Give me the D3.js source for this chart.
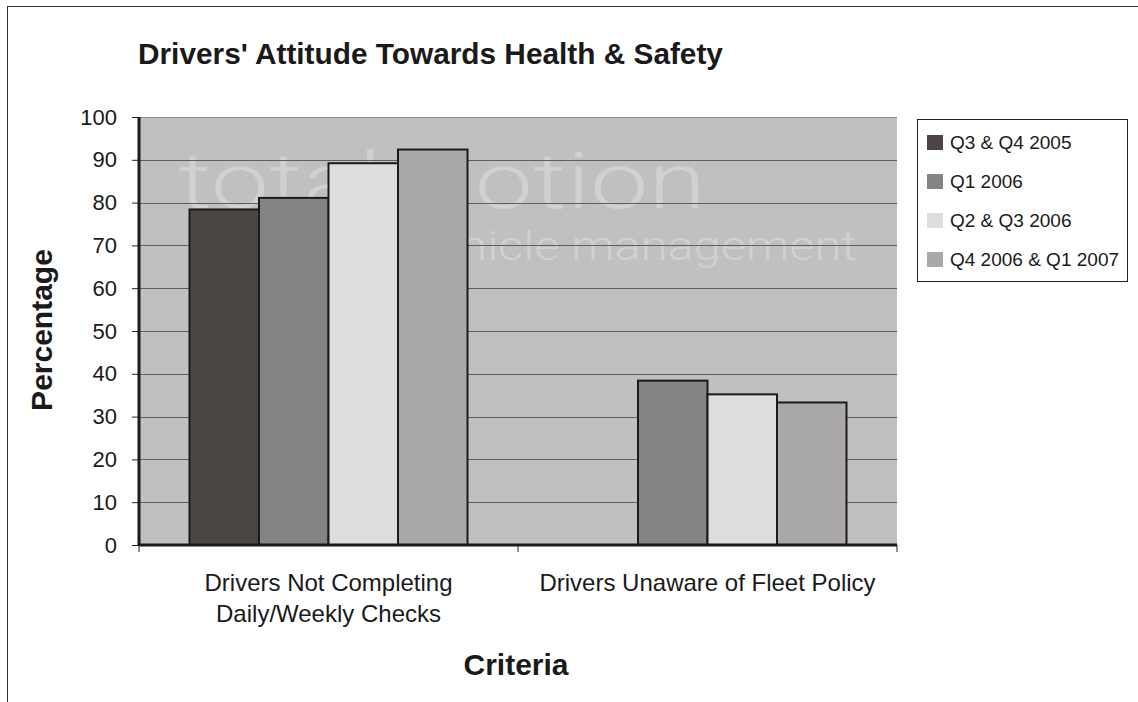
<!DOCTYPE html>
<meta charset="utf-8">
<style>
body { margin: 0; background: #fff; }
svg * { font-family: 'Liberation Sans', Arial, sans-serif; }
.grid line { stroke: #5f5f5f; stroke-width: 1px; }
.bar { stroke: #1e1a19; stroke-width: 2px; }
.tick-label { font-size: 22px; fill: #1a1a1a; }
.cat-label { font-size: 24px; fill: #1a1a1a; }
svg .watermark { font-family: 'Roboto', 'Lato', sans-serif; font-weight: 300; fill: #d1d1d1; }
</style>
<svg width="1138" height="702" id="svg"></svg>
<script src="https://cdn.jsdelivr.net/npm/d3@7"></script>
<script>

const categories = ['Drivers Not Completing|Daily/Weekly Checks', 'Drivers Unaware of Fleet Policy'];
const seriesNames = ['Q3 & Q4 2005', 'Q1 2006', 'Q2 & Q3 2006', 'Q4 2006 & Q1 2007'];
const seriesColors = ['#4b4643', '#848484', '#dddddd', '#aaa9a7'];
// one array per series, one value per category (null = no bar)
const q3q4_2005 = [78.4, null];
const q1_2006 = [81.1, 38.4];
const q2q3_2006 = [89.2, 35.2];
const q4_2006_q1_2007 = [92.4, 33.3];
const yTicks = [0, 10, 20, 30, 40, 50, 60, 70, 80, 90, 100];

const series = [q3q4_2005, q1_2006, q2q3_2006, q4_2006_q1_2007];

let svg = d3.select('#svg');
let margin = {top: 117, left: 139, right: 241, bottom: 157};
let width = 1138 - margin.left - margin.right,
    height = 702 - margin.top - margin.bottom;

function translate(x, y) {
    return 'translate(' + x + ',' + y + ')';
}

// outer frame (only top/left visible, like the cropped original)
svg.append('rect')
    .attr('x', 7.5).attr('y', 6.5)
    .attr('width', 1300).attr('height', 900)
    .attr('fill', 'none').attr('stroke', '#333').attr('stroke-width', 1);

svg.append('text')
    .attr('x', 138).attr('y', 64)
    .style('font-size', '29.8px').style('font-weight', 'bold')
    .attr('fill', '#1a1a1a')
    .text("Drivers' Attitude Towards Health & Safety");

let g = svg.append('g').attr('transform', translate(margin.left, margin.top));

let x0 = d3.scaleBand().domain(d3.range(categories.length)).range([0, width]).paddingInner(0).paddingOuter(0);
let x1 = d3.scaleBand().domain(d3.range(series.length)).range([50.5, x0.bandwidth() - 50.5]);
let y = d3.scaleLinear().domain([0, 100]).range([height, 0]);

g.append('rect')
    .attr('width', width).attr('height', height)
    .attr('fill', '#c0c0c0');

// watermark
g.append('text')
    .attr('class', 'watermark')
    .attr('x', 39).attr('y', 91)
    .style('font-size', '78px')
    .attr('textLength', 528).attr('lengthAdjust', 'spacingAndGlyphs')
    .text('totalmotion');
g.append('text')
    .attr('class', 'watermark')
    .attr('x', 273).attr('y', 143)
    .style('font-size', '40px')
    .attr('textLength', 445).attr('lengthAdjust', 'spacingAndGlyphs')
    .text('vehicle management');

g.append('g')
    .attr('class', 'grid')
    .selectAll('line')
    .data(yTicks.filter(d => d > 0))
    .enter().append('line')
    .attr('x1', 0).attr('x2', width)
    .attr('y1', d => Math.round(y(d)) + 0.5)
    .attr('y2', d => Math.round(y(d)) + 0.5)
    .style('stroke', d => d === 100 ? '#8a8a8a' : null);

let cat = g.selectAll('.cat')
    .data(categories)
    .enter().append('g')
    .attr('class', 'cat')
    .attr('transform', (d, i) => translate(x0(i), 0));

cat.selectAll('rect')
    .data((d, i) => series.map((s, j) => ({j: j, v: s[i]})).filter(d => d.v != null))
    .enter().append('rect')
    .attr('class', 'bar')
    .attr('x', d => x1(d.j))
    .attr('width', x1.bandwidth())
    .attr('y', d => y(d.v))
    .attr('height', d => height - y(d.v))
    .attr('fill', d => seriesColors[d.j]);

// y axis
let yAxis = d3.axisLeft(y).tickValues(yTicks).tickSize(7).tickPadding(15);
let ya = g.append('g').call(yAxis);
ya.select('.domain').remove();
ya.selectAll('.tick line').attr('stroke', '#222');
ya.selectAll('.tick text').attr('class', 'tick-label').attr('fill', '#1a1a1a');
ya.attr('font-size', null).attr('font-family', null);
g.append('line')
    .attr('x1', 0).attr('x2', 0).attr('y1', 0).attr('y2', height)
    .attr('stroke', '#1e1a19').attr('stroke-width', 3);

// x axis
g.append('line')
    .attr('x1', 0).attr('x2', width).attr('y1', height).attr('y2', height)
    .attr('stroke', '#1e1a19').attr('stroke-width', 3);
g.selectAll('.xtick')
    .data(d3.range(categories.length + 1))
    .enter().append('line')
    .attr('x1', d => d * x0.bandwidth()).attr('x2', d => d * x0.bandwidth())
    .attr('y1', height).attr('y2', height + 7)
    .attr('stroke', '#222');

let xl = g.selectAll('.xlabel')
    .data(categories)
    .enter().append('text')
    .attr('class', 'cat-label')
    .attr('text-anchor', 'middle')
    .attr('transform', (d, i) => translate(x0(i) + x0.bandwidth() / 2, height + 46));
xl.selectAll('tspan')
    .data(d => d.split('|'))
    .enter().append('tspan')
    .attr('x', 0)
    .attr('dy', (d, i) => i === 0 ? 0 : 31)
    .text(d => d);

svg.append('text')
    .attr('text-anchor', 'middle')
    .attr('x', 516).attr('y', 675)
    .style('font-size', '30px').style('font-weight', 'bold')
    .attr('fill', '#1a1a1a')
    .text('Criteria');

svg.append('text')
    .attr('text-anchor', 'middle')
    .attr('transform', translate(52, 330) + ' rotate(-90)')
    .style('font-size', '30px').style('font-weight', 'bold')
    .attr('fill', '#1a1a1a')
    .text('Percentage');

// legend
let legend = svg.append('g').attr('transform', translate(917, 119));
legend.append('rect')
    .attr('x', 0.5).attr('y', 0.5)
    .attr('width', 210).attr('height', 162)
    .attr('fill', '#fff').attr('stroke', '#222');
let item = legend.selectAll('.item')
    .data(seriesNames)
    .enter().append('g')
    .attr('transform', (d, i) => translate(10, 23 + i * 39));
item.append('rect')
    .attr('x', 0).attr('y', -7)
    .attr('width', 16).attr('height', 15)
    .attr('fill', (d, i) => seriesColors[i]);
item.append('text')
    .attr('x', 23).attr('y', 7)
    .style('font-size', '19px')
    .attr('fill', '#1a1a1a')
    .text(d => d);

</script>
